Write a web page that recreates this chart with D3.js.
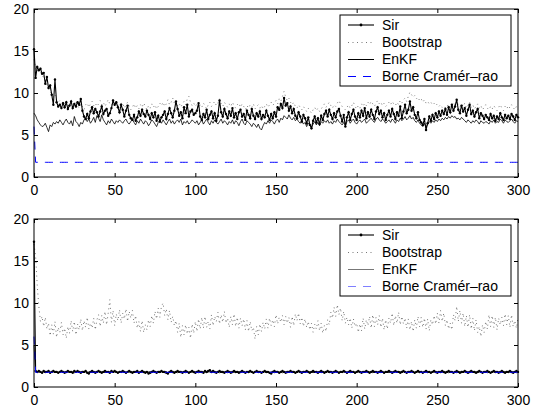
<!DOCTYPE html>
<html>
<head>
<meta charset="utf-8">
<script src="https://cdn.jsdelivr.net/npm/d3@7"></script>
<style>
body { margin: 0; background: #fff; }
text { font-family: "Liberation Sans", Arial, sans-serif; font-size: 14px; fill: #000; }
</style>
</head>
<body>
<script>
// Ticks et légende
const xTicks = [0, 50, 100, 150, 200, 250, 300];
const yTicks = [0, 5, 10, 15, 20];
const legendLabels = ["Sir", "Bootstrap", "EnKF", "Borne Cram\u00e9r\u2013rao"];

// Borne de Cramér-Rao (identique pour les deux figures)
const crb = [6.0,
1.75,1.75,1.75,1.75,1.75,1.75,1.75,1.75,1.75,1.75,1.75,1.75,1.75,1.75,1.75,1.75,1.75,1.75,1.75,1.75,
1.75,1.75,1.75,1.75,1.75,1.75,1.75,1.75,1.75,1.75,1.75,1.75,1.75,1.75,1.75,1.75,1.75,1.75,1.75,1.75,
1.75,1.75,1.75,1.75,1.75,1.75,1.75,1.75,1.75,1.75,1.75,1.75,1.75,1.75,1.75,1.75,1.75,1.75,1.75,1.75,
1.75,1.75,1.75,1.75,1.75,1.75,1.75,1.75,1.75,1.75,1.75,1.75,1.75,1.75,1.75,1.75,1.75,1.75,1.75,1.75,
1.75,1.75,1.75,1.75,1.75,1.75,1.75,1.75,1.75,1.75,1.75,1.75,1.75,1.75,1.75,1.75,1.75,1.75,1.75,1.75,
1.75,1.75,1.75,1.75,1.75,1.75,1.75,1.75,1.75,1.75,1.75,1.75,1.75,1.75,1.75,1.75,1.75,1.75,1.75,1.75,
1.75,1.75,1.75,1.75,1.75,1.75,1.75,1.75,1.75,1.75,1.75,1.75,1.75,1.75,1.75,1.75,1.75,1.75,1.75,1.75,
1.75,1.75,1.75,1.75,1.75,1.75,1.75,1.75,1.75,1.75,1.75,1.75,1.75,1.75,1.75,1.75,1.75,1.75,1.75,1.75,
1.75,1.75,1.75,1.75,1.75,1.75,1.75,1.75,1.75,1.75,1.75,1.75,1.75,1.75,1.75,1.75,1.75,1.75,1.75,1.75,
1.75,1.75,1.75,1.75,1.75,1.75,1.75,1.75,1.75,1.75,1.75,1.75,1.75,1.75,1.75,1.75,1.75,1.75,1.75,1.75,
1.75,1.75,1.75,1.75,1.75,1.75,1.75,1.75,1.75,1.75,1.75,1.75,1.75,1.75,1.75,1.75,1.75,1.75,1.75,1.75,
1.75,1.75,1.75,1.75,1.75,1.75,1.75,1.75,1.75,1.75,1.75,1.75,1.75,1.75,1.75,1.75,1.75,1.75,1.75,1.75,
1.75,1.75,1.75,1.75,1.75,1.75,1.75,1.75,1.75,1.75,1.75,1.75,1.75,1.75,1.75,1.75,1.75,1.75,1.75,1.75,
1.75,1.75,1.75,1.75,1.75,1.75,1.75,1.75,1.75,1.75,1.75,1.75,1.75,1.75,1.75,1.75,1.75,1.75,1.75,1.75,
1.75,1.75,1.75,1.75,1.75,1.75,1.75,1.75,1.75,1.75,1.75,1.75,1.75,1.75,1.75,1.75,1.75,1.75,1.75,1.75];

// Figure du haut
const sirTop = [
15.2,11.8,13.1,12.7,12.9,12.3,12.4,11.1,11.9,10.6,10.9,9.8,8.6,11.6,8.9,8.4,8.6,8.2,8.8,8.3,
8.9,8.1,8.5,9.0,8.2,8.7,8.4,8.9,8.6,9.3,7.9,7.2,6.9,7.5,7.0,7.8,8.3,7.6,8.1,7.7,
7.2,7.8,8.4,7.5,7.9,8.1,7.3,7.6,8.2,9.1,8.6,8.9,8.3,7.7,8.6,8.0,7.2,7.9,8.5,7.4,
7.0,6.8,7.4,6.7,7.1,7.8,7.3,8.0,7.5,7.2,7.9,7.4,6.9,7.6,7.1,7.7,6.7,7.3,6.6,7.1,
7.4,7.8,6.9,7.5,8.2,7.6,7.1,7.9,9.0,8.1,7.3,7.7,7.0,8.3,7.6,8.6,7.2,7.8,8.0,7.4,
7.6,7.9,8.8,7.2,6.8,7.5,7.1,8.0,6.9,7.4,7.8,7.0,7.6,6.7,7.3,9.1,7.7,7.2,8.1,7.5,
7.0,7.8,7.3,8.2,7.1,7.6,6.9,7.7,8.0,7.2,7.5,6.8,7.9,7.4,7.0,8.1,7.3,6.9,7.6,7.2,
7.8,6.9,7.4,7.1,7.9,7.3,6.8,7.5,7.0,7.7,7.2,8.3,8.0,8.7,8.2,9.4,8.5,8.8,7.9,8.4,
7.6,8.1,7.3,7.0,7.7,7.2,6.6,7.4,7.0,6.4,7.1,6.2,5.8,6.7,7.2,6.5,7.0,6.3,7.3,6.8,
7.5,7.9,7.2,8.0,7.4,6.9,7.6,7.1,7.8,8.1,7.3,6.6,7.4,6.0,7.1,7.7,6.8,7.5,8.0,7.2,
6.8,7.6,7.1,7.9,7.3,8.2,7.0,7.7,7.2,8.0,7.4,6.9,7.8,8.3,7.5,7.9,7.1,7.6,6.8,7.4,
7.9,7.2,8.1,7.5,6.9,7.7,7.3,8.4,7.0,7.8,8.6,7.6,8.0,9.0,7.9,8.3,7.4,7.0,7.7,6.8,
6.5,6.2,6.9,5.6,6.4,7.2,6.7,7.4,6.9,7.6,7.1,7.8,7.3,7.9,7.5,8.1,7.4,8.3,7.7,8.6,
7.9,8.4,9.2,8.0,7.6,8.5,7.8,8.2,7.3,8.0,8.6,7.5,7.9,7.2,7.7,8.1,7.0,7.6,7.3,6.9,
7.4,7.1,6.8,7.5,7.0,7.3,6.7,7.2,6.9,7.6,7.1,6.8,7.4,7.0,7.3,6.9,7.5,7.2,6.8,7.4,
7.1];

const bootTop = [
14.0,13.0,12.6,12.8,12.5,12.2,11.8,11.5,11.0,10.7,10.2,9.9,9.5,9.8,9.2,8.9,9.1,8.7,8.5,8.9,
8.6,8.3,8.8,8.4,8.1,8.6,8.9,8.5,8.2,8.7,8.4,8.0,8.6,8.8,8.3,8.7,9.0,8.5,8.8,8.4,
8.7,9.1,8.6,8.9,8.4,8.8,9.2,8.7,8.5,9.0,8.6,8.9,8.3,8.7,8.5,8.8,8.2,8.6,8.9,8.4,
8.0,8.3,8.7,8.2,8.5,8.1,8.6,8.3,8.8,8.4,8.0,8.5,8.2,8.7,8.3,8.6,8.1,8.4,8.8,8.5,
8.9,8.4,8.7,9.2,8.6,8.9,9.4,8.8,9.1,8.5,8.8,8.3,8.7,9.0,8.6,9.3,9.6,8.9,8.5,8.8,
8.4,8.7,8.2,8.6,8.3,8.8,8.5,8.1,8.6,8.9,8.4,8.7,9.0,8.5,8.8,9.3,8.7,8.4,8.9,8.6,
8.3,8.7,8.4,8.9,8.5,8.2,8.6,8.8,8.3,8.7,8.4,8.0,8.5,8.2,8.6,8.3,8.7,8.1,8.4,8.6,
8.2,8.5,8.1,8.4,8.7,8.3,8.6,8.9,8.5,8.8,9.1,8.7,9.3,9.0,9.6,10.2,9.5,9.1,9.4,8.9,
8.6,8.9,8.4,8.2,8.6,8.3,8.0,8.4,8.1,7.8,8.2,7.9,7.6,8.0,8.3,7.9,8.2,7.8,8.1,8.4,
8.7,8.3,8.6,8.9,8.5,8.2,8.6,8.4,8.8,9.1,8.7,8.4,8.2,8.0,8.3,8.6,8.2,8.5,8.9,8.4,
8.1,8.5,8.2,8.7,8.4,8.8,8.5,8.9,8.6,9.0,8.7,8.4,8.8,9.1,8.7,8.9,8.5,8.8,8.4,8.6,
8.9,8.6,9.0,8.7,8.5,8.9,8.6,9.1,8.8,9.2,9.4,9.0,9.6,10.1,9.8,9.5,9.7,9.3,9.5,9.1,
9.3,8.9,9.2,8.8,9.0,8.7,8.9,8.6,8.8,8.5,8.7,8.4,8.6,8.3,8.5,8.2,8.4,8.7,8.3,8.6,
8.9,8.5,9.0,8.6,8.3,8.7,8.4,8.8,8.2,8.5,8.9,8.3,8.6,8.1,8.4,8.7,8.2,8.5,8.0,8.3,
8.6,8.2,8.0,8.4,8.1,8.5,8.2,7.9,8.3,8.6,8.2,7.9,8.4,8.1,8.5,8.2,8.6,8.3,8.0,8.4,
8.2];

const enkfTop = [
7.6,7.3,6.8,6.5,6.2,6.0,6.1,6.4,5.9,5.4,6.2,6.0,6.5,6.3,6.6,6.4,6.8,6.5,6.2,6.6,
6.9,6.5,6.3,6.7,6.1,7.2,6.6,6.4,6.0,6.5,6.3,6.8,7.0,6.6,6.9,6.4,6.7,7.1,6.5,7.3,
7.0,6.6,7.4,6.8,6.5,6.2,6.7,6.4,6.9,6.6,6.3,6.7,6.5,6.8,6.6,6.4,6.7,6.9,6.5,6.3,
6.6,6.8,6.5,6.2,6.7,6.4,6.9,6.6,6.3,6.7,6.5,6.1,6.4,6.8,6.6,6.3,6.0,6.5,6.7,6.4,
6.8,6.5,6.2,6.6,6.9,6.4,6.7,6.3,6.6,6.8,6.5,6.9,6.2,6.6,6.4,6.7,6.3,6.5,6.8,6.6,
6.4,6.7,6.2,6.5,6.8,6.3,6.6,6.9,6.5,6.2,6.7,6.4,6.8,6.5,6.3,6.6,6.9,6.4,6.7,6.5,
6.2,6.6,6.4,6.8,6.3,6.7,6.5,6.1,6.6,6.9,6.4,6.2,6.7,6.5,6.3,6.0,6.4,6.2,5.9,6.3,
5.8,5.6,6.1,6.5,6.3,6.7,6.4,6.8,6.6,6.3,6.7,6.9,6.5,7.0,6.8,7.3,7.1,6.9,7.4,7.0,
6.8,7.1,6.7,6.9,6.6,6.4,6.7,6.3,6.5,6.0,6.4,6.2,5.9,6.3,6.6,6.2,6.5,6.1,6.6,6.4,
6.7,6.5,6.8,6.4,6.6,6.3,6.7,6.5,6.9,6.6,6.4,6.2,6.5,6.1,6.6,6.8,6.4,6.7,6.9,6.5,
6.3,6.6,6.8,6.5,6.7,6.9,6.4,6.6,6.8,7.0,6.7,6.5,6.9,7.1,6.8,6.6,6.9,6.7,6.4,6.6,
6.8,6.5,6.9,6.7,6.4,6.8,6.6,7.0,6.7,6.9,7.2,6.8,7.0,7.3,6.9,7.1,6.7,6.5,6.8,6.4,
6.2,6.0,6.4,5.9,6.3,6.6,6.4,6.7,6.5,6.8,6.6,6.9,6.7,7.0,6.8,7.1,6.9,7.2,7.0,7.3,
7.1,7.2,6.9,7.0,6.8,7.1,6.9,6.7,6.5,6.8,6.6,6.4,6.7,6.5,6.8,6.6,6.3,6.7,6.5,6.4,
6.6,6.5,6.3,6.7,6.5,6.8,6.4,6.6,6.5,6.9,6.7,6.4,6.8,6.6,6.5,6.7,6.9,6.6,6.4,6.7,
6.6];

// Figure du bas
const sirBottom = [17.3,
1.9,1.8,1.9,1.8,1.7,1.9,1.8,1.8,1.9,1.7,1.8,1.9,1.8,1.8,1.7,1.8,1.9,1.8,1.7,1.8,
1.9,1.8,1.8,1.7,1.9,1.8,1.9,1.8,1.7,1.8,1.8,1.9,1.7,1.6,1.8,1.9,1.8,1.7,1.8,1.9,
1.8,1.7,1.8,1.9,1.8,1.8,1.7,1.9,1.8,1.9,1.8,1.7,1.8,1.8,1.9,1.8,1.7,1.8,1.9,1.8,
1.7,1.8,1.8,1.9,1.7,1.8,1.9,1.8,1.7,1.8,1.6,1.7,1.8,1.9,1.8,1.7,1.8,1.8,1.9,1.8,
1.8,1.7,1.6,1.8,1.9,1.8,1.7,1.8,1.9,1.8,1.8,1.7,1.8,1.9,1.8,1.7,1.8,1.9,1.8,1.7,
1.8,1.9,1.8,1.8,1.7,1.9,1.8,1.9,2.0,1.8,1.9,1.8,1.7,1.8,1.9,1.8,1.8,1.7,1.8,1.9,
1.8,1.7,1.8,1.9,1.8,1.8,1.7,1.8,1.9,1.8,1.7,1.8,1.8,1.9,1.8,1.7,1.8,1.9,1.8,1.8,
1.7,1.8,1.9,1.8,1.8,1.7,1.6,1.8,1.9,1.8,1.8,1.7,1.8,1.9,1.8,1.7,1.8,1.8,1.9,1.8,
1.8,1.7,1.8,1.9,1.8,1.7,1.8,1.8,1.9,1.8,1.7,1.8,1.9,1.8,1.8,1.7,1.8,1.9,1.8,1.7,
1.8,1.9,1.8,1.8,1.7,1.8,1.9,1.8,1.7,1.8,1.8,1.9,1.8,1.7,1.8,1.9,1.8,1.8,1.7,1.8,
1.9,1.8,1.7,1.8,1.8,1.9,1.8,1.7,1.8,1.9,1.8,1.8,1.7,1.8,1.9,1.8,1.7,1.8,1.8,1.9,
1.8,1.7,1.8,1.9,1.8,1.8,1.7,1.8,1.9,1.8,1.7,1.8,1.8,1.9,1.8,1.7,1.8,1.9,1.8,1.8,
1.7,1.8,1.9,1.8,1.8,1.7,1.8,1.9,1.8,1.7,1.8,1.8,1.9,1.8,1.7,1.8,1.9,1.8,1.8,1.7,
1.8,1.9,1.8,1.7,1.8,1.8,1.9,1.8,1.7,1.8,1.9,1.8,1.8,1.7,1.8,1.9,1.8,1.7,1.8,1.8,
1.9,1.8,1.7,1.8,1.9,1.8,1.8,1.7,1.8,1.9,1.8,1.7,1.8,1.8,1.9,1.8,1.7,1.8,1.9,1.8];

const bootBottom = [
17.0,15.6,12.1,9.6,7.8,8.4,7.2,8.3,6.9,7.6,6.1,7.4,6.3,7.8,5.9,7.1,6.5,7.7,6.2,7.0,
5.8,7.2,6.4,7.9,6.6,7.8,6.2,7.5,6.8,8.1,6.7,7.9,7.1,8.3,6.9,7.6,7.0,8.2,6.8,8.0,
8.6,7.2,8.5,7.6,9.0,7.4,8.8,10.4,7.7,9.1,7.3,8.7,7.9,9.2,7.6,8.8,8.1,9.3,7.8,9.0,
8.2,9.1,7.6,8.5,7.0,7.8,6.6,7.9,6.5,7.4,6.8,8.0,7.2,8.5,7.6,9.0,8.1,9.4,8.3,9.6,
10.0,8.5,9.3,8.0,9.1,7.7,8.4,7.3,7.9,6.5,7.6,5.9,7.3,6.2,7.4,6.3,7.1,5.8,7.5,6.4,
7.8,6.6,8.1,6.9,8.3,7.0,8.4,7.1,7.8,6.9,8.6,7.3,8.4,7.8,8.9,7.5,8.6,7.7,9.0,7.6,
8.2,7.1,8.4,7.4,8.7,7.2,8.3,7.0,8.2,7.3,8.1,6.8,7.9,6.6,7.8,6.7,7.1,5.7,7.2,6.2,
7.5,6.6,7.7,6.9,8.1,7.0,8.2,7.3,8.0,7.2,8.6,7.5,8.3,7.7,8.5,7.4,8.4,7.6,8.3,7.1,
8.4,7.3,8.7,7.9,8.8,7.5,8.3,7.2,8.1,7.1,7.8,6.8,7.6,6.5,7.5,6.9,7.9,6.7,7.6,6.4,
7.3,6.6,8.0,7.4,8.9,8.2,9.5,8.4,9.8,8.6,9.4,7.9,9.0,7.6,8.3,7.4,8.2,7.0,8.1,7.2,
7.6,6.5,7.5,6.7,8.2,6.9,8.0,7.3,8.4,7.0,8.6,7.2,8.3,7.4,8.5,7.1,8.2,6.8,8.0,6.9,
8.2,7.6,8.8,7.3,8.5,7.6,8.9,7.4,8.4,7.5,8.2,7.0,8.1,6.8,7.8,6.6,8.0,7.0,8.4,7.2,
8.3,7.1,8.2,6.9,8.1,6.7,8.0,7.4,8.5,7.5,8.8,7.6,9.1,7.8,8.8,7.3,8.0,6.9,7.6,6.8,
8.6,7.9,9.6,7.8,9.1,7.6,8.8,7.2,8.5,7.1,8.6,6.9,8.2,6.7,8.0,6.5,7.2,6.0,7.4,6.5,
7.8,6.9,8.6,7.2,8.5,7.1,8.3,6.8,8.2,7.4,8.3,7.3,8.7,7.4,8.5,7.1,8.6,7.2,7.9,7.0,
8.2];

const enkfBottom = [5.0,
1.8,1.7,1.8,1.8,1.7,1.8,1.7,1.8,1.8,1.7,1.8,1.8,1.7,1.8,1.7,1.8,1.8,1.7,1.8,1.7,
1.8,1.8,1.7,1.8,1.7,1.8,1.8,1.7,1.8,1.8,1.7,1.8,1.7,1.8,1.8,1.7,1.8,1.8,1.7,1.8,
1.7,1.8,1.8,1.7,1.8,1.7,1.8,1.8,1.7,1.8,1.8,1.7,1.8,1.7,1.8,1.8,1.7,1.8,1.8,1.7,
1.8,1.7,1.8,1.8,1.7,1.8,1.8,1.7,1.8,1.7,1.8,1.8,1.7,1.8,1.7,1.8,1.8,1.7,1.8,1.8,
1.7,1.8,1.7,1.8,1.8,1.7,1.8,1.8,1.7,1.8,1.7,1.8,1.8,1.7,1.8,1.7,1.8,1.8,1.7,1.8,
1.8,1.7,1.8,1.7,1.8,1.8,1.7,1.8,1.8,1.7,1.8,1.7,1.8,1.8,1.7,1.8,1.7,1.8,1.8,1.7,
1.8,1.8,1.7,1.8,1.7,1.8,1.8,1.7,1.8,1.8,1.7,1.8,1.7,1.8,1.8,1.7,1.8,1.8,1.7,1.8,
1.7,1.8,1.8,1.7,1.8,1.7,1.8,1.8,1.7,1.8,1.8,1.7,1.8,1.7,1.8,1.8,1.7,1.8,1.8,1.7,
1.8,1.7,1.8,1.8,1.7,1.8,1.8,1.7,1.8,1.7,1.8,1.8,1.7,1.8,1.7,1.8,1.8,1.7,1.8,1.8,
1.7,1.8,1.7,1.8,1.8,1.7,1.8,1.8,1.7,1.8,1.7,1.8,1.8,1.7,1.8,1.7,1.8,1.8,1.7,1.8,
1.8,1.7,1.8,1.7,1.8,1.8,1.7,1.8,1.8,1.7,1.8,1.7,1.8,1.8,1.7,1.8,1.7,1.8,1.8,1.7,
1.8,1.8,1.7,1.8,1.7,1.8,1.8,1.7,1.8,1.8,1.7,1.8,1.7,1.8,1.8,1.7,1.8,1.8,1.7,1.8,
1.7,1.8,1.8,1.7,1.8,1.7,1.8,1.8,1.7,1.8,1.8,1.7,1.8,1.7,1.8,1.8,1.7,1.8,1.8,1.7,
1.8,1.7,1.8,1.8,1.7,1.8,1.8,1.7,1.8,1.7,1.8,1.8,1.7,1.8,1.7,1.8,1.8,1.7,1.8,1.8,
1.7,1.8,1.7,1.8,1.8,1.7,1.8,1.8,1.7,1.8,1.7,1.8,1.8,1.7,1.8,1.7,1.8,1.8,1.7,1.8];

const width = 542;
const height = 412;
const marginLeft = 34;
const marginRight = 24;

const svg = d3.select("body").append("svg")
  .attr("width", width)
  .attr("height", height);

const x = d3.scaleLinear().domain([0, 300]).range([marginLeft, width - marginRight]);

// Une figure = un axe avec ses 4 séries
function drawPanel(top, bottom, sir, boot, enkf, bound, enkfLegendColor, boundLegendColor) {
  const y = d3.scaleLinear().domain([0, 20]).range([bottom, top]);
  const g = svg.append("g");
  const line = d3.line().x((d, i) => x(i)).y(d => y(d));

  // séries
  g.append("path").attr("d", line(sir))
    .attr("fill", "none").attr("stroke", "#000").attr("stroke-width", 1.1);
  g.selectAll("circle.sir").data(sir).join("circle")
    .attr("class", "sir")
    .attr("cx", (d, i) => x(i)).attr("cy", d => y(d)).attr("r", 1.2)
    .attr("fill", "#000");
  g.append("path").attr("d", line(boot))
    .attr("fill", "none").attr("stroke", "#000").attr("stroke-opacity", 0.6)
    .attr("stroke-width", 0.9).attr("stroke-dasharray", "1,3.5");
  g.append("path").attr("d", line(enkf))
    .attr("fill", "none").attr("stroke", "#000").attr("stroke-width", 0.8);
  g.append("path").attr("d", line(bound))
    .attr("fill", "none").attr("stroke", "#0000ff").attr("stroke-width", 1)
    .attr("stroke-dasharray", "8,7");

  // axes (ticks vers l'intérieur, comme Matlab)
  g.append("g").attr("transform", "translate(0," + bottom + ")")
    .call(d3.axisBottom(x).tickValues(xTicks).tickSizeInner(-4).tickSizeOuter(0).tickPadding(8))
    .call(a => a.select(".domain").remove())
    .call(a => a.selectAll("text").attr("font-size", 14).attr("font-family", null));
  g.append("g").attr("transform", "translate(0," + top + ")")
    .call(d3.axisTop(x).tickValues(xTicks).tickFormat("").tickSizeInner(-4).tickSizeOuter(0))
    .call(a => a.select(".domain").remove());
  g.append("g").attr("transform", "translate(" + marginLeft + ",0)")
    .call(d3.axisLeft(y).tickValues(yTicks).tickSizeInner(-4).tickSizeOuter(0).tickPadding(5))
    .call(a => a.select(".domain").remove())
    .call(a => a.selectAll("text").attr("font-size", 14).attr("font-family", null));
  g.append("g").attr("transform", "translate(" + (width - marginRight) + ",0)")
    .call(d3.axisRight(y).tickValues(yTicks).tickFormat("").tickSizeInner(-4).tickSizeOuter(0))
    .call(a => a.select(".domain").remove());

  g.append("rect")
    .attr("x", marginLeft).attr("y", top)
    .attr("width", width - marginRight - marginLeft).attr("height", bottom - top)
    .attr("fill", "none").attr("stroke", "#000").attr("stroke-width", 1);

  // légende
  const lx = 340, ly = top + 6;
  const leg = g.append("g");
  leg.append("rect").attr("x", lx).attr("y", ly).attr("width", 171).attr("height", 71)
    .attr("fill", "#fff").attr("stroke", "#000").attr("stroke-width", 1);
  const rows = [10, 27.5, 44.5, 61.5];
  const styles = [
    { stroke: "#000", dash: null, w: 1.1, op: 1 },
    { stroke: "#000", dash: "1,3.5", w: 0.9, op: 0.6 },
    { stroke: enkfLegendColor, dash: null, w: 1, op: 1 },
    { stroke: boundLegendColor, dash: "8,7", w: 1, op: 1 }
  ];
  legendLabels.forEach((label, i) => {
    const yy = ly + rows[i];
    leg.append("line").attr("x1", lx + 8).attr("x2", lx + 34)
      .attr("y1", yy).attr("y2", yy)
      .attr("stroke", styles[i].stroke).attr("stroke-width", styles[i].w)
      .attr("stroke-opacity", styles[i].op)
      .attr("stroke-dasharray", styles[i].dash);
    if (i === 0) {
      leg.append("circle").attr("cx", lx + 21).attr("cy", yy).attr("r", 1.4).attr("fill", "#000");
    }
    leg.append("text").attr("x", lx + 42).attr("y", yy).attr("dy", "0.35em").text(label);
  });
}

drawPanel(9, 177, sirTop, bootTop, enkfTop, crb, "#000", "#0000ff");
drawPanel(219, 387, sirBottom, bootBottom, enkfBottom, crb, "#777", "#7f7fff");
</script>
</body>
</html>
